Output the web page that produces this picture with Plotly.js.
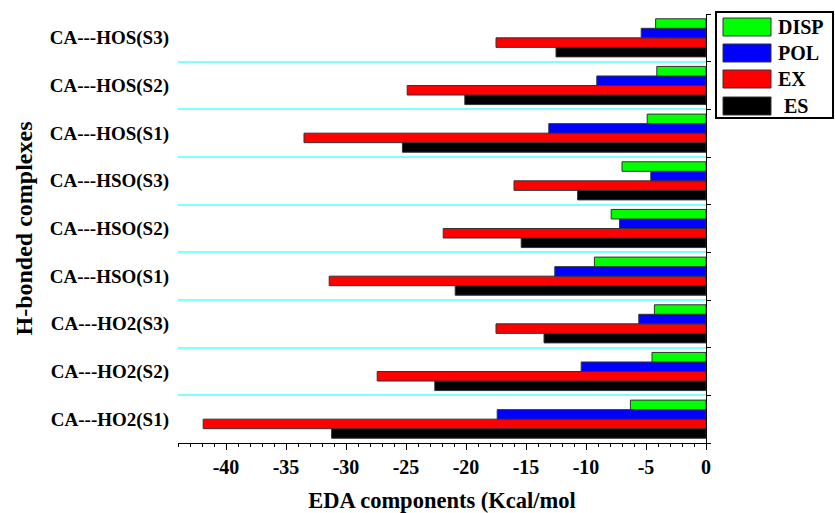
<!DOCTYPE html>
<html>
<head>
<meta charset="utf-8">
<script src="https://cdn.plot.ly/plotly-3.0.1.min.js"></script>
<style>html,body{margin:0;padding:0;background:#fff;}#chart{width:835px;height:513px;}</style>
</head>
<body>
<div id="chart"></div>
<script>
// Categories bottom -> top
const categories = ["CA---HO2(S1)","CA---HO2(S2)","CA---HO2(S3)","CA---HSO(S1)","CA---HSO(S2)","CA---HSO(S3)","CA---HOS(S1)","CA---HOS(S2)","CA---HOS(S3)"];
const DISP = [-6.3, -4.5, -4.3, -9.3, -7.9, -7.0, -4.9, -4.1, -4.2];
const POL  = [-17.4, -10.4, -5.6, -12.6, -7.2, -4.6, -13.1, -9.1, -5.4];
const EX   = [-41.9, -27.4, -17.5, -31.4, -21.9, -16.0, -33.5, -24.9, -17.5];
const ES   = [-31.2, -22.6, -13.5, -20.9, -15.4, -10.7, -25.3, -20.1, -12.5];
const seriesNames = ["DISP","POL","EX","ES"];
const seriesValues = [DISP, POL, EX, ES];
const seriesColors = ["#00ff00","#0000ff","#ff0000","#000000"];
const xTickVals = [-40,-35,-30,-25,-20,-15,-10,-5,0];

const serif = "Liberation Serif, Times New Roman, serif";

// traces drawn in reverse so DISP is on top within each group
const traces = [];
for (let i = seriesNames.length - 1; i >= 0; i--) {
  traces.push({
    type: "bar", orientation: "h",
    name: seriesNames[i], x: seriesValues[i], y: categories,
    marker: {color: seriesColors[i], line: {color: "#333333", width: 1}},
    showlegend: false, hoverinfo: "x+y"
  });
}
// helper trace on right axis so its categories exist
traces.push({type:"bar", orientation:"h", x: categories.map(()=>0), y: categories, yaxis:"y2",
  marker:{color:"rgba(0,0,0,0)", line:{width:0}}, showlegend:false, hoverinfo:"skip"});

// plot area pixel geometry
const L = 178, R = 706, T = 14, B = 443;
const px = v => (v - L) / (R - L);
const py = v => (B - v) / (B - T);

const shapes = [];
const annotations = [];
// legend box
shapes.push({type:"rect", xref:"paper", yref:"paper", x0:px(716), x1:px(833), y0:py(12), y1:py(118),
  line:{color:"#000", width:2}, fillcolor:"rgba(0,0,0,0)"});
const legTops = [18, 44, 70, 97];
for (let i = 0; i < seriesNames.length; i++) {
  const t = legTops[i];
  shapes.push({type:"rect", xref:"paper", yref:"paper", x0:px(723), x1:px(771), y0:py(t), y1:py(t+18),
    line:{color:"#333", width:1}, fillcolor: seriesColors[i]});
  annotations.push({xref:"paper", yref:"paper", x:px(i===3?782:776), y:py(t+9), xanchor:"left", yanchor:"middle",
    text: seriesNames[i], showarrow:false, font:{family:serif, size:20, color:"#000", weight:"bold"}});
}

const layout = {
  width: 835, height: 513,
  margin: {l: L, r: 835 - R, t: T, b: 513 - B},
  paper_bgcolor: "#fff", plot_bgcolor: "#fff",
  barmode: "group", bargap: 0.2, bargroupgap: 0,
  showlegend: false,
  xaxis: {
    range: [-44, 0], tickvals: xTickVals, ticktext: xTickVals.map(String),
    showgrid: false, zeroline: false, showline: true, linecolor: "#000", linewidth: 1,
    ticks: "outside", ticklen: 6, tickwidth: 1, tickcolor: "#000",
    minor: {dtick: 1, tick0: 0, ticks: "outside", ticklen: 3, tickcolor: "#000", showgrid: false},
    tickfont: {family: serif, size: 20, color: "#000", weight: "bold"},
    title: {text: "EDA components (Kcal/mol", font: {family: serif, size: 22.5, color: "#000", weight: "bold"}, standoff: 29},
    fixedrange: true
  },
  yaxis: {
    type: "category", categoryorder: "array", categoryarray: categories,
    tickson: "boundaries", showgrid: true, gridcolor: "#80ffff", gridwidth: 2,
    showline: false, zeroline: false, ticks: "", ticklabelstandoff: 8,
    tickfont: {family: serif, size: 19, color: "#000", weight: "bold"},
    title: {text: "H-bonded complexes", font: {family: serif, size: 24, color: "#000", weight: "bold"}, standoff: 10},
    fixedrange: true
  },
  yaxis2: {
    type: "category", categoryorder: "array", categoryarray: categories,
    overlaying: "y", side: "right", matches: "y",
    tickson: "boundaries", showgrid: false, gridcolor: "#80ffff", showline: true, linecolor: "#000", linewidth: 1,
    ticks: "outside", ticklen: 4, tickcolor: "#000", showticklabels: false, fixedrange: true
  },
  shapes: shapes,
  annotations: annotations
};

Plotly.newPlot("chart", traces, layout, {displayModeBar: false, staticPlot: true});
</script>
</body>
</html>
